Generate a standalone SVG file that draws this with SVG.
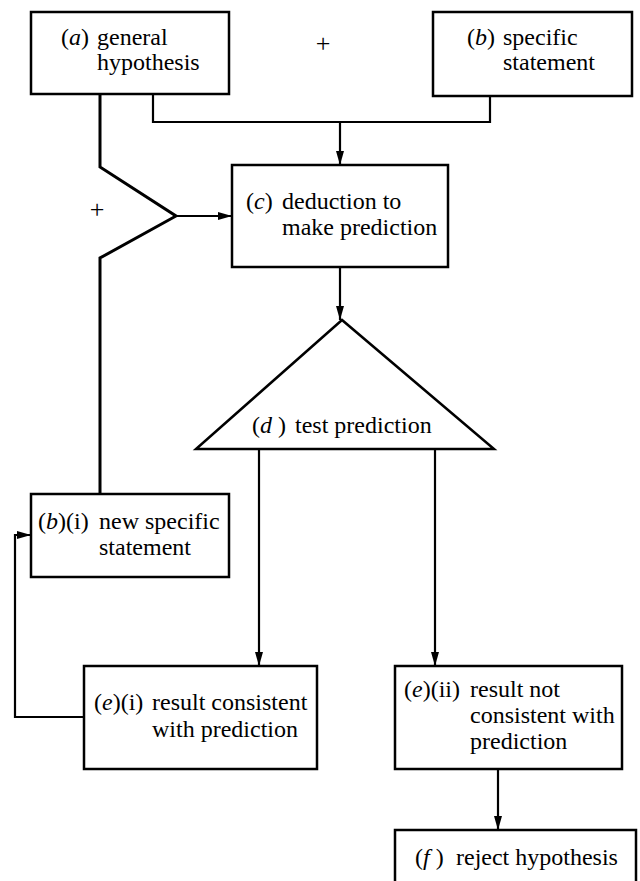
<svg xmlns="http://www.w3.org/2000/svg" width="640" height="881" viewBox="0 0 640 881">
<style>
.box{fill:#fff;stroke:#000;stroke-width:2.5}
.ln{fill:none;stroke:#000;stroke-width:2.2}
.thick{fill:none;stroke:#000;stroke-width:3}
</style>
<defs>
<marker id="ah" markerWidth="14" markerHeight="8" refX="14" refY="4" orient="auto" markerUnits="userSpaceOnUse">
<path d="M0,0 L14,4 L0,8 Z" fill="#000"/>
</marker>
</defs>
<rect width="640" height="881" fill="#fff"/>
<g id="connectors">
<path class="ln" d="M153,94 V122 H490 V96"/>
<path class="ln" d="M340,122 V165" marker-end="url(#ah)"/>
<path class="thick" d="M100,94 V167 L176,216 L100,258 V494"/>
<path class="ln" d="M176,216 H232" marker-end="url(#ah)"/>
<path class="ln" d="M340,267 V320" marker-end="url(#ah)"/>
<path class="ln" d="M259,449 V666" marker-end="url(#ah)"/>
<path class="ln" d="M435,449 V666" marker-end="url(#ah)"/>
<path class="ln" d="M84,717 H15 V535 H31" marker-end="url(#ah)"/>
<path class="ln" d="M498,769 V830" marker-end="url(#ah)"/>
<text x="323" y="52" text-anchor="middle" style="font-family:'Liberation Serif',serif;font-size:26px;fill:#000">+</text>
<text x="97" y="218" text-anchor="middle" style="font-family:'Liberation Serif',serif;font-size:26px;fill:#000">+</text>
</g>
<g id="node-a">
<rect class="box" x="31" y="12" width="198" height="82"/>
<text x="61" y="45" style="font-family:'Liberation Serif',serif;font-size:24px;fill:#000">(<tspan style="font-style:italic">a</tspan>)</text>
<text x="97" y="45" style="font-family:'Liberation Serif',serif;font-size:24px;fill:#000">general</text>
<text x="97" y="70" style="font-family:'Liberation Serif',serif;font-size:24px;fill:#000">hypothesis</text>
</g>
<g id="node-b">
<rect class="box" x="433" y="12" width="199" height="84"/>
<text x="467" y="45" style="font-family:'Liberation Serif',serif;font-size:24px;fill:#000">(<tspan style="font-style:italic">b</tspan>)</text>
<text x="503" y="45" style="font-family:'Liberation Serif',serif;font-size:24px;fill:#000">specific</text>
<text x="503" y="70" style="font-family:'Liberation Serif',serif;font-size:24px;fill:#000">statement</text>
</g>
<g id="node-c">
<rect class="box" x="232" y="165" width="216" height="102"/>
<text x="246" y="209" style="font-family:'Liberation Serif',serif;font-size:24px;fill:#000">(<tspan style="font-style:italic">c</tspan>)</text>
<text x="282" y="209" style="font-family:'Liberation Serif',serif;font-size:24px;fill:#000">deduction to</text>
<text x="282" y="235" style="font-family:'Liberation Serif',serif;font-size:24px;fill:#000">make prediction</text>
</g>
<g id="node-d">
<path class="box" d="M342,320 L196,449 L494,449 Z"/>
<text x="252" y="433" style="font-family:'Liberation Serif',serif;font-size:24px;fill:#000">(<tspan style="font-style:italic">d</tspan> )</text>
<text x="295" y="433" style="font-family:'Liberation Serif',serif;font-size:24px;fill:#000">test prediction</text>
</g>
<g id="node-bi">
<rect class="box" x="31" y="494" width="198" height="83"/>
<text x="38" y="529" style="font-family:'Liberation Serif',serif;font-size:24px;fill:#000">(<tspan style="font-style:italic">b</tspan>)(i)</text>
<text x="99" y="529" style="font-family:'Liberation Serif',serif;font-size:24px;fill:#000">new specific</text>
<text x="99" y="555" style="font-family:'Liberation Serif',serif;font-size:24px;fill:#000">statement</text>
</g>
<g id="node-ei">
<rect class="box" x="84" y="666" width="233" height="103"/>
<text x="94" y="710" style="font-family:'Liberation Serif',serif;font-size:24px;fill:#000">(<tspan style="font-style:italic">e</tspan>)(i)</text>
<text x="152" y="710" style="font-family:'Liberation Serif',serif;font-size:24px;fill:#000">result consistent</text>
<text x="152" y="737" style="font-family:'Liberation Serif',serif;font-size:24px;fill:#000">with prediction</text>
</g>
<g id="node-eii">
<rect class="box" x="395" y="666" width="227" height="103"/>
<text x="404" y="697" style="font-family:'Liberation Serif',serif;font-size:24px;fill:#000">(<tspan style="font-style:italic">e</tspan>)(ii)</text>
<text x="470" y="697" style="font-family:'Liberation Serif',serif;font-size:24px;fill:#000">result not</text>
<text x="470" y="723" style="font-family:'Liberation Serif',serif;font-size:24px;fill:#000">consistent with</text>
<text x="470" y="749" style="font-family:'Liberation Serif',serif;font-size:24px;fill:#000">prediction</text>
</g>
<g id="node-f">
<rect class="box" x="395" y="830" width="241" height="56"/>
<text x="415" y="865" style="font-family:'Liberation Serif',serif;font-size:24px;fill:#000">(<tspan style="font-style:italic">f</tspan> )</text>
<text x="456" y="865" style="font-family:'Liberation Serif',serif;font-size:24px;fill:#000">reject hypothesis</text>
</g>
</svg>
